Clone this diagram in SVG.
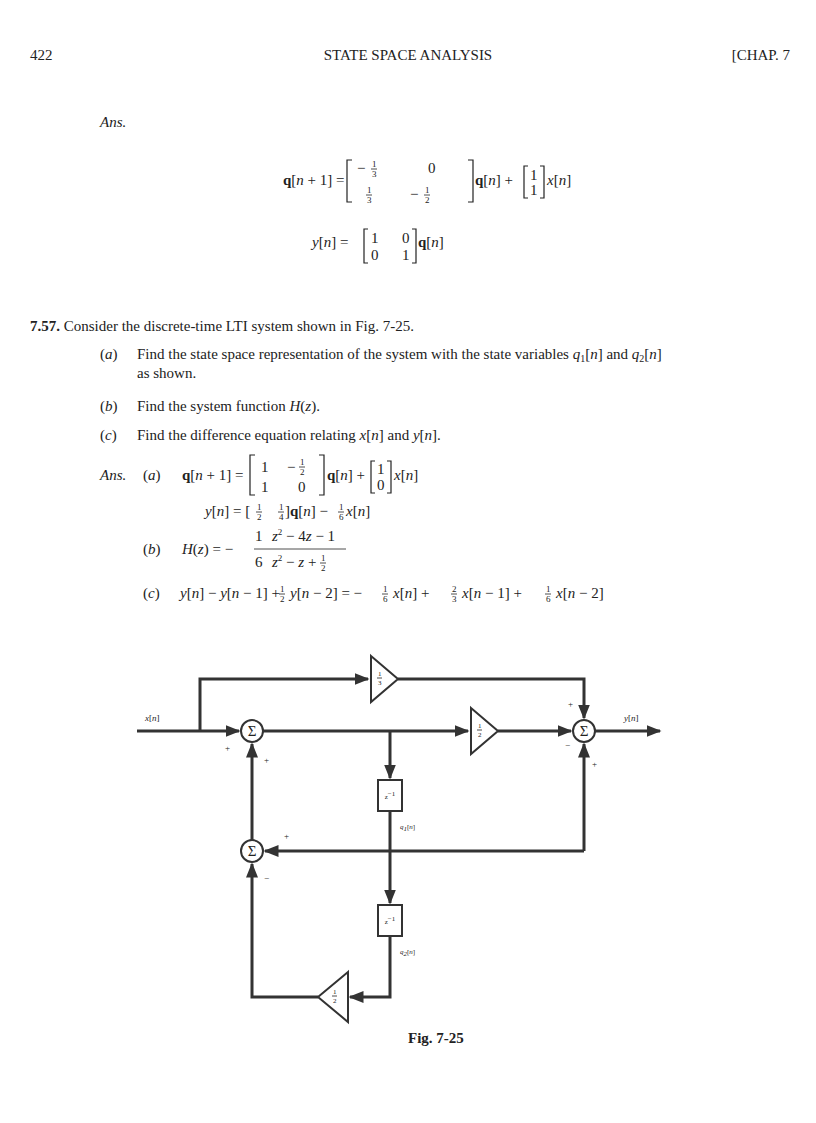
<svg xmlns="http://www.w3.org/2000/svg" width="816" height="1123" viewBox="0 0 816 1123">
<style>
text{font-family:"Liberation Serif",serif;font-size:15px;fill:#222}
.i{font-style:italic}
.b{font-weight:bold}
.s{font-size:9px}
.t{font-size:7px}
.w{stroke:#333;stroke-width:3;fill:none}
.br{stroke:#222;stroke-width:1.2;fill:none}
.n{fill:#fff;stroke:#333;stroke-width:2}
.fl{stroke:#222;stroke-width:0.8}
</style>
<defs>
<marker id="a" viewBox="0 0 10 10" refX="9" refY="5" markerWidth="5" markerHeight="5" orient="auto"><path d="M0,1 L10,5 L0,9 Z" fill="#333"/></marker>
</defs>
<rect width="816" height="1123" fill="#fff"/>
<g id="page-text">
<text x="30" y="60">422</text>
<text x="408" y="60" text-anchor="middle">STATE SPACE ANALYSIS</text>
<text x="790" y="60" text-anchor="end">[CHAP. 7</text>
<text x="100" y="127" class="i">Ans.</text>
<text x="283" y="185"><tspan class="b">q</tspan>[<tspan class="i">n</tspan> + 1] =</text>
<path class="br" d="M352,160 h-5 v42 h5 M468,160 h5 v42 h-5"/>
<text x="357" y="173">−</text><text x="372" y="167" class="s">1</text><line class="fl" x1="371" y1="169" x2="377" y2="169"/><text x="372" y="177" class="s">3</text>
<text x="428" y="173">0</text>
<text x="367" y="193" class="s">1</text><line class="fl" x1="366" y1="195" x2="372" y2="195"/><text x="367" y="203" class="s">3</text>
<text x="410" y="199">−</text><text x="425" y="193" class="s">1</text><line class="fl" x1="424" y1="195" x2="430" y2="195"/><text x="425" y="203" class="s">2</text>
<text x="475" y="185"><tspan class="b">q</tspan>[<tspan class="i">n</tspan>] +</text>
<path class="br" d="M528,166 h-4 v32 h4 M540,166 h4 v32 h-4"/>
<text x="530" y="180">1</text><text x="530" y="195">1</text>
<text x="547" y="185" class="i">x<tspan font-style="normal">[</tspan>n<tspan font-style="normal">]</tspan></text>
<text x="312" y="247" class="i">y<tspan font-style="normal">[</tspan>n<tspan font-style="normal">] =</tspan></text>
<path class="br" d="M368,229 h-4 v34 h4 M412,229 h4 v34 h-4"/>
<text x="371" y="243">1</text><text x="402" y="243">0</text>
<text x="371" y="260">0</text><text x="402" y="260">1</text>
<text x="418" y="247"><tspan class="b">q</tspan>[<tspan class="i">n</tspan>]</text>

<text x="30" y="331"><tspan class="b">7.57.</tspan>  Consider the discrete-time LTI system shown in Fig. 7-25.</text>
<text x="100" y="359">(<tspan class="i">a</tspan>)</text>
<text x="137" y="359">Find the state space representation of the system with the state variables <tspan class="i">q</tspan><tspan font-size="10" dy="3">1</tspan><tspan dy="-3">[</tspan><tspan class="i">n</tspan>] and <tspan class="i">q</tspan><tspan font-size="10" dy="3">2</tspan><tspan dy="-3">[</tspan><tspan class="i">n</tspan>]</text>
<text x="137" y="378">as shown.</text>
<text x="100" y="411">(<tspan class="i">b</tspan>)</text>
<text x="137" y="411">Find the system function <tspan class="i">H</tspan>(<tspan class="i">z</tspan>).</text>
<text x="100" y="440">(<tspan class="i">c</tspan>)</text>
<text x="137" y="440">Find the difference equation relating <tspan class="i">x</tspan>[<tspan class="i">n</tspan>] and <tspan class="i">y</tspan>[<tspan class="i">n</tspan>].</text>

<text x="100" y="480" class="i">Ans.</text>
<text x="143" y="480">(<tspan class="i">a</tspan>)</text>
<text x="182" y="480"><tspan class="b">q</tspan>[<tspan class="i">n</tspan> + 1] =</text>
<path class="br" d="M255,455 h-5 v40 h5 M319,455 h5 v40 h-5"/>
<text x="261" y="472">1</text><text x="287" y="472">−</text><text x="300" y="465" class="s">1</text><line class="fl" x1="299" y1="467" x2="305" y2="467"/><text x="300" y="475" class="s">2</text>
<text x="261" y="492">1</text><text x="298" y="492">0</text>
<text x="327" y="480"><tspan class="b">q</tspan>[<tspan class="i">n</tspan>] +</text>
<path class="br" d="M375,461 h-4 v32 h4 M387,461 h4 v32 h-4"/>
<text x="377" y="474">1</text><text x="377" y="490">0</text>
<text x="394" y="480" class="i">x<tspan font-style="normal">[</tspan>n<tspan font-style="normal">]</tspan></text>

<text x="205" y="516" class="i">y<tspan font-style="normal">[</tspan>n<tspan font-style="normal">] = [</tspan></text>
<text x="257" y="510" class="s">1</text><line class="fl" x1="256" y1="512" x2="262" y2="512"/><text x="257" y="520" class="s">2</text>
<text x="279" y="510" class="s">1</text><line class="fl" x1="278" y1="512" x2="284" y2="512"/><text x="279" y="520" class="s">4</text>
<text x="285" y="516">]<tspan class="b">q</tspan>[<tspan class="i">n</tspan>] −</text>
<text x="339" y="510" class="s">1</text><line class="fl" x1="338" y1="512" x2="344" y2="512"/><text x="339" y="520" class="s">6</text>
<text x="346" y="516" class="i">x<tspan font-style="normal">[</tspan>n<tspan font-style="normal">]</tspan></text>

<text x="143" y="554">(<tspan class="i">b</tspan>)</text>
<text x="182" y="554"><tspan class="i">H</tspan>(<tspan class="i">z</tspan>) = −</text>
<text x="255" y="541">1</text><text x="255" y="567">6</text>
<line class="fl" x1="254" y1="549" x2="346" y2="549"/>
<text x="272" y="541" class="i">z<tspan font-style="normal" class="s" dy="-6">2</tspan><tspan font-style="normal" dy="6"> − 4</tspan>z<tspan font-style="normal"> − 1</tspan></text>
<text x="272" y="567" class="i">z<tspan font-style="normal" class="s" dy="-6">2</tspan><tspan font-style="normal" dy="6"> − </tspan>z<tspan font-style="normal"> +</tspan></text>
<text x="321" y="561" class="s">1</text><line class="fl" x1="320" y1="563" x2="326" y2="563"/><text x="321" y="571" class="s">2</text>

<text x="143" y="598">(<tspan class="i">c</tspan>)</text>
<text x="180" y="598"><tspan class="i">y</tspan>[<tspan class="i">n</tspan>] − <tspan class="i">y</tspan>[<tspan class="i">n</tspan> − 1] +</text>
<text x="290" y="598"><tspan class="i">y</tspan>[<tspan class="i">n</tspan> − 2] = −</text>
<text x="393" y="598"><tspan class="i">x</tspan>[<tspan class="i">n</tspan>] +</text>
<text x="462" y="598"><tspan class="i">x</tspan>[<tspan class="i">n</tspan> − 1] +</text>
<text x="556" y="598"><tspan class="i">x</tspan>[<tspan class="i">n</tspan> − 2]</text>
</g>
<g id="fractions-c">
<text x="280" y="592" class="s">1</text><line class="fl" x1="279" y1="594" x2="285" y2="594"/><text x="280" y="602" class="s">2</text>
<text x="383" y="592" class="s">1</text><line class="fl" x1="382" y1="594" x2="388" y2="594"/><text x="383" y="602" class="s">6</text>
<text x="452" y="592" class="s">2</text><line class="fl" x1="451" y1="594" x2="457" y2="594"/><text x="452" y="602" class="s">3</text>
<text x="546" y="592" class="s">1</text><line class="fl" x1="545" y1="594" x2="551" y2="594"/><text x="546" y="602" class="s">6</text>
</g>

<g id="connectors">
<path class="w" d="M137,731 H239" marker-end="url(#a)"/>
<path class="w" d="M200,731 V679 H368" marker-end="url(#a)"/>
<path class="w" d="M398,679 H584 V718" marker-end="url(#a)"/>
<path class="w" d="M263,731 H468" marker-end="url(#a)"/>
<path class="w" d="M498,731 H571" marker-end="url(#a)"/>
<path class="w" d="M595,731 H660" marker-end="url(#a)"/>
<path class="w" d="M390,731 V778" marker-end="url(#a)"/>
<path class="w" d="M390,812 V903" marker-end="url(#a)"/>
<path class="w" d="M584,851 V744" marker-end="url(#a)"/>
<path class="w" d="M584,851 H265" marker-end="url(#a)"/>
<path class="w" d="M252,840 V744" marker-end="url(#a)"/>
<path class="w" d="M390,937 V997 H350" marker-end="url(#a)"/>
<path class="w" d="M318,997 H252 V864" marker-end="url(#a)"/>
</g>
<g id="sum1"><circle class="n" cx="252" cy="731" r="11"/><text x="252" y="736" text-anchor="middle" font-size="12">Σ</text></g>
<g id="sum2"><circle class="n" cx="252" cy="851" r="11"/><text x="252" y="856" text-anchor="middle" font-size="12">Σ</text></g>
<g id="sum3"><circle class="n" cx="584" cy="731" r="11"/><text x="584" y="736" text-anchor="middle" font-size="12">Σ</text></g>
<g id="gain13"><path class="n" d="M371,656 L398,679 L371,702 Z"/><text x="378" y="676" class="t">1</text><line class="fl" x1="377" y1="678" x2="382" y2="678"/><text x="378" y="685" class="t">3</text></g>
<g id="gain12"><path class="n" d="M471,708 L498,731 L471,754 Z"/><text x="478" y="728" class="t">1</text><line class="fl" x1="477" y1="730" x2="482" y2="730"/><text x="478" y="737" class="t">2</text></g>
<g id="gain12b"><path class="n" d="M348,972 L318,997 L348,1022 Z"/><text x="333" y="994" class="t">1</text><line class="fl" x1="332" y1="996" x2="337" y2="996"/><text x="333" y="1003" class="t">2</text></g>
<g id="delay1"><rect class="n" x="378" y="780" width="24" height="31"/><text x="390" y="799" text-anchor="middle" class="t">z<tspan dy="-3">−1</tspan></text></g>
<g id="delay2"><rect class="n" x="378" y="905" width="24" height="31"/><text x="390" y="924" text-anchor="middle" class="t">z<tspan dy="-3">−1</tspan></text></g>
<g id="labels">
<text x="145" y="721" class="s i">x<tspan font-style="normal">[</tspan>n<tspan font-style="normal">]</tspan></text>
<text x="624" y="721" class="s i">y<tspan font-style="normal">[</tspan>n<tspan font-style="normal">]</tspan></text>
<text x="400" y="829" class="t i">q<tspan dy="2">1</tspan><tspan dy="-2" font-style="normal">[</tspan>n<tspan font-style="normal">]</tspan></text>
<text x="400" y="954" class="t i">q<tspan dy="2">2</tspan><tspan dy="-2" font-style="normal">[</tspan>n<tspan font-style="normal">]</tspan></text>
<text x="225" y="751" class="s">+</text>
<text x="264" y="763" class="s">+</text>
<text x="284" y="839" class="s">+</text>
<text x="264" y="881" class="s">−</text>
<text x="568" y="707" class="s">+</text>
<text x="565" y="748" class="s">−</text>
<text x="592" y="767" class="s">+</text>
<text x="408" y="1043" class="b" font-size="14">Fig. 7-25</text>
</g>
</svg>
